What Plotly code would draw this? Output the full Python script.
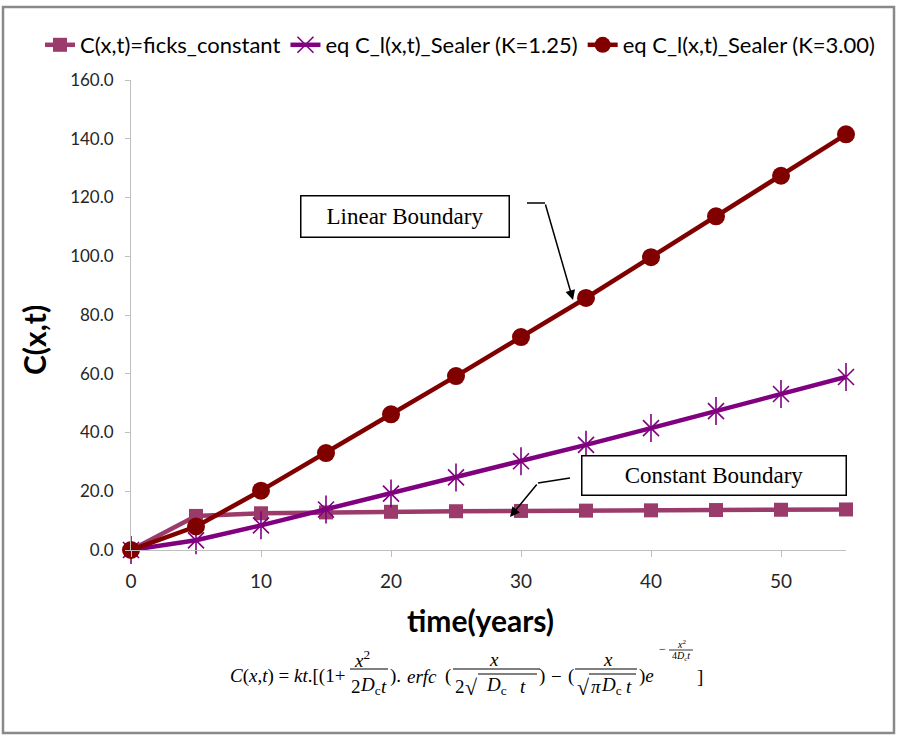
import plotly.graph_objects as go

# ---- data -------------------------------------------------------------
time_years = [0, 5, 10, 15, 20, 25, 30, 35, 40, 45, 50, 55]
ficks_constant = [0.0, 11.6, 12.5, 12.8, 13.0, 13.2, 13.3, 13.4, 13.5, 13.6, 13.7, 13.8]
sealer_k125 = [0.0, 3.3, 8.4, 13.8, 19.2, 24.7, 30.2, 35.8, 41.5, 47.3, 53.1, 58.9]
sealer_k300 = [0.0, 8.0, 20.2, 33.0, 46.2, 59.2, 72.5, 85.8, 99.7, 113.6, 127.4, 141.5]

series_names = [
    "C(x,t)=ficks_constant",
    "eq C_l(x,t)_Sealer (K=1.25)",
    "eq C_l(x,t)_Sealer (K=3.00)",
]
x_ticks = [0, 10, 20, 30, 40, 50]
y_ticks = [0, 20, 40, 60, 80, 100, 120, 140, 160]

# ---- page geometry (pixels) -------------------------------------------
W, H = 899, 740
L, R, T, B = 131, 846, 80, 550   # plot area edges


def PX(px):
    return (px - L) / (R - L)


def PY(py):
    return (B - py) / (B - T)


SANS = "Lato, Calibri, Carlito, sans-serif"
SERIF = "Liberation Serif, Times New Roman, serif"
AXIS_GREY = "#bfbfbf"
PINK, PURPLE, MAROON = "#9b3b6b", "#800080", "#800000"

fig = go.Figure()

fig.add_trace(go.Scatter(
    x=time_years, y=ficks_constant, name=series_names[0], mode="lines+markers",
    line=dict(color=PINK, width=4.5),
    marker=dict(symbol="square", size=14, color=PINK),
    cliponaxis=False,
))
# six-armed star marker: an "x" plus a vertical bar
fig.add_trace(go.Scatter(
    x=time_years, y=sealer_k125, name=series_names[1], mode="lines+markers",
    legendgroup="k125",
    line=dict(color=PURPLE, width=4.5),
    marker=dict(symbol="x-thin-open", size=16, color=PURPLE,
                line=dict(color=PURPLE, width=1.6)),
    cliponaxis=False,
))
fig.add_trace(go.Scatter(
    x=time_years, y=sealer_k125, name=series_names[1], mode="markers",
    legendgroup="k125", showlegend=False, hoverinfo="skip",
    marker=dict(symbol="line-ns-open", size=20, color=PURPLE,
                line=dict(color=PURPLE, width=1.6)),
    cliponaxis=False,
))
fig.add_trace(go.Scatter(
    x=time_years, y=sealer_k300, name=series_names[2], mode="lines+markers",
    line=dict(color=MAROON, width=4.5),
    marker=dict(symbol="circle", size=18, color=MAROON),
    cliponaxis=False,
))

annotations = []
shapes = []


def note(text, x, y, **kw):
    d = dict(text=text, x=PX(x), y=PY(y), xref="paper", yref="paper",
             xanchor="center", yanchor="middle", showarrow=False)
    d.update(kw)
    annotations.append(d)


# axis titles
note("<b>time(years)</b>", 480, 620, font=dict(family=SANS, size=30, color="#000000"))
note("<b>C(x,t)</b>", 34, 340, textangle=-90, font=dict(family=SANS, size=30, color="#000000"))

# callout boxes
note("Linear Boundary", 405, 216.5, width=207, height=40, bgcolor="white",
     bordercolor="black", borderwidth=1.5, borderpad=0,
     font=dict(family=SERIF, size=23, color="#000000"))
note("Constant Boundary", 714, 475.5, width=263, height=38, bgcolor="white",
     bordercolor="black", borderwidth=1.5, borderpad=0,
     font=dict(family=SERIF, size=23, color="#000000"))

# elbow arrows pointing at the curves
annotations.append(dict(text="", x=PX(573), y=PY(300), xref="paper", yref="paper",
                        ax=545 - 573, ay=203 - 300, showarrow=True, arrowhead=2,
                        arrowsize=1.3, arrowwidth=1.5, arrowcolor="black"))
shapes.append(dict(type="line", xref="paper", yref="paper", x0=PX(527), y0=PY(203),
                   x1=PX(545), y1=PY(203), line=dict(color="black", width=1.5)))
annotations.append(dict(text="", x=PX(510), y=PY(517), xref="paper", yref="paper",
                        ax=538 - 510, ay=483 - 517, showarrow=True, arrowhead=2,
                        arrowsize=1.3, arrowwidth=1.5, arrowcolor="black"))
shapes.append(dict(type="line", xref="paper", yref="paper", x0=PX(570), y0=PY(478),
                   x1=PX(538), y1=PY(483), line=dict(color="black", width=1.5)))

# ---- formula under the chart ------------------------------------------
FS = 19
YM = 676      # main line centre
YN = 659      # numerator centre
YD = 686      # denominator centre
YBAR = 669    # fraction bar


def txt(s, x, y, size=FS, anchor="center"):
    note(s, x, y, xanchor=anchor, font=dict(family=SERIF, size=size, color="#000000"))


def bar(x0, x1, y, w=1.2):
    shapes.append(dict(type="line", xref="paper", yref="paper", x0=PX(x0), y0=PY(y),
                       x1=PX(x1), y1=PY(y), line=dict(color="black", width=w)))


txt("<i>C</i>(<i>x</i>,<i>t</i>) = <i>kt</i>.[(1+", 228, YM, anchor="left")
# x^2 / (2 D_c t)
txt("<i>x</i><sup>2</sup>", 362, YN)
bar(350, 388, YBAR)
txt("2", 356, YD)
txt("<i>D</i><sub>c</sub>", 370, YD)
txt("<i>t</i>", 384, YD)
txt(").", 388, YM, anchor="left")
txt("<i>erfc</i>", 422, YM)
txt("(", 448, YM)
# x / (2 sqrt(D_c t))
txt("<i>x</i>", 494, YN)
bar(453, 540, YBAR)
txt("2", 460, YD)
txt("√", 471, YD + 1, size=22)
bar(478, 537, 674, 1)
txt("<i>D</i><sub>c</sub>", 496, YD)
txt("<i>t</i>", 523, YD)
txt(")", 542, YM)
txt("−", 556, YM)
txt("(", 571, YM)
# x / (sqrt(pi D_c t))
txt("<i>x</i>", 608, YN)
bar(575, 637, YBAR)
txt("√", 583, YD + 1, size=22)
bar(589, 636, 674, 1)
txt("<i>π</i>", 596, YD)
txt("<i>D</i><sub>c</sub>", 611, YD)
txt("<i>t</i>", 629, YD)
txt(")<i>e</i>", 637, YM, anchor="left")
# exponent -x^2 / (4 D_c t)
txt("−", 662, 649, size=12)
txt("<i>x</i><sup>2</sup>", 681, 644, size=10)
bar(669, 693, 650, 0.8)
txt("4<i>D</i><sub>c</sub><i>t</i>", 681, 656, size=10)
txt("]", 700, YM)

# outer frame
shapes.append(dict(type="rect", xref="paper", yref="paper", x0=PX(3), y0=PY(733),
                   x1=PX(894), y1=PY(7), line=dict(color="#898989", width=2.5),
                   fillcolor="rgba(0,0,0,0)", layer="below"))

fig.update_layout(
    width=W, height=H,
    margin=dict(l=L, r=W - R, t=T, b=H - B, pad=0),
    paper_bgcolor="white", plot_bgcolor="white",
    font=dict(family=SANS, size=16, color="#262626"),
    showlegend=True,
    legend=dict(orientation="h", x=PX(40), y=PY(45), xanchor="left", yanchor="middle",
                font=dict(family=SANS, size=22, color="#000000"),
                bgcolor="rgba(0,0,0,0)", tracegroupgap=0, itemwidth=30),
    xaxis=dict(range=[0, 55], tickvals=x_ticks, ticks="outside", ticklen=6,
               tickcolor=AXIS_GREY, showline=True, linecolor=AXIS_GREY, linewidth=1,
               showgrid=False, zeroline=False, fixedrange=True, ticklabelstandoff=8,
               tickfont=dict(family=SANS, size=19, color="#262626")),
    yaxis=dict(range=[0, 160], tickvals=y_ticks, tickformat=".1f", ticks="outside",
               ticklen=5, tickcolor=AXIS_GREY, showline=True, linecolor=AXIS_GREY,
               linewidth=1, showgrid=False, zeroline=False, fixedrange=True,
               ticklabelstandoff=8,
               tickfont=dict(family=SANS, size=17, color="#262626")),
    annotations=annotations,
    shapes=shapes,
)

fig.write_html("out.html")
